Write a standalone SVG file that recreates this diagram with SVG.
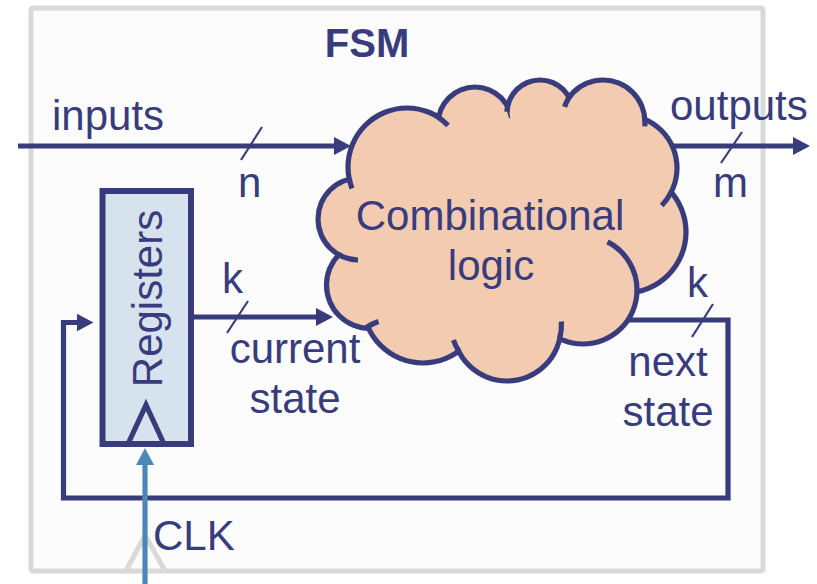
<svg xmlns="http://www.w3.org/2000/svg" width="817" height="584" viewBox="0 0 817 584">
  <style>
    .lbl { font-family: "Liberation Sans", Arial, sans-serif; font-size: 42px; fill: #383c7c; }
    .title { font-family: "Liberation Sans", Arial, sans-serif; font-size: 40px; font-weight: bold; fill: #383c7c; }
    .wire { fill: none; stroke: #383c7c; stroke-width: 5.2; }
    .clk { fill: none; stroke: #4c87b8; stroke-width: 5.2; }
    .slash { fill: none; stroke: #383c7c; stroke-width: 2.2; }
    .tail { fill: none; stroke: #383c7c; stroke-width: 5.2; }
  </style>
  <defs>
    <marker id="arrow" markerUnits="userSpaceOnUse" markerWidth="18" markerHeight="18" viewBox="0 0 18 18" refX="1" refY="9" orient="auto">
      <path d="M0,0 L17,9 L0,18 z" fill="#383c7c"/>
    </marker>
    <marker id="arrowClk" markerUnits="userSpaceOnUse" markerWidth="18" markerHeight="18" viewBox="0 0 18 18" refX="1" refY="9" orient="auto">
      <path d="M0,0 L17,9 L0,18 z" fill="#4c87b8"/>
    </marker>
  </defs>

  <rect width="817" height="584" fill="#ffffff"/>

  <!-- FSM boundary with its clock input -->
  <g id="fsm-frame">
    <rect x="31" y="8" width="732" height="563" rx="2" fill="#fcfcfc" stroke="#d9d9d9" stroke-width="5"/>
    <polyline points="127,569 145,535 164,569" fill="none" stroke="#d9d9d9" stroke-width="5"/>
    <text class="title" x="367" y="57" text-anchor="middle">FSM</text>
  </g>

  <!-- Combinational logic cloud: union of bumps -->
  <g id="combinational-logic">
    <g fill="#383c7c">
      <circle cx="407" cy="167" r="61.6"/>
      <circle cx="475" cy="124" r="39.6"/>
      <circle cx="540" cy="113" r="35.6"/>
      <circle cx="603" cy="122" r="44.6"/>
      <circle cx="624" cy="168" r="55.6"/>
      <circle cx="625" cy="232" r="63.6"/>
      <circle cx="583" cy="290" r="56.6"/>
      <circle cx="507" cy="327" r="56.6"/>
      <circle cx="423" cy="303" r="62.6"/>
      <circle cx="370" cy="285" r="46.1"/>
      <circle cx="359" cy="219" r="43.6"/>
    </g>
    <g fill="#f2cbb1">
      <circle cx="407" cy="167" r="56.4"/>
      <circle cx="475" cy="124" r="34.4"/>
      <circle cx="540" cy="113" r="30.4"/>
      <circle cx="603" cy="122" r="39.4"/>
      <circle cx="624" cy="168" r="50.4"/>
      <circle cx="625" cy="232" r="58.4"/>
      <circle cx="583" cy="290" r="51.4"/>
      <circle cx="507" cy="327" r="51.4"/>
      <circle cx="423" cy="303" r="57.4"/>
      <circle cx="370" cy="285" r="40.9"/>
      <circle cx="359" cy="219" r="38.4"/>
      <polygon points="407,167 475,124 540,113 603,122 624,168 625,232 583,290 507,327 423,303 370,285 359,219"/>
    </g>
    <!-- inner tails of the bumps -->
    <path class="tail" d="M438.7,117.3 A59,59 0 0,1 448,125.6"/>
    <path class="tail" d="M507.7,106.6 A33,33 0 0,0 506.8,111.8"/>
    <path class="tail" d="M569,97.3 A42,42 0 0,0 564.6,106.9"/>
    <path class="tail" d="M644.8,119.3 A42,42 0 0,1 644.8,126.4"/>
    <path class="tail" d="M671.2,192.2 A53,53 0 0,1 661.7,205.5"/>
    <path class="tail" d="M637,291.8 A54,54 0 0,0 607.5,241.9"/>
    <path class="tail" d="M559.7,338.7 A54,54 0 0,0 561.4,321.5"/>
    <path class="tail" d="M458.8,351.2 A54,54 0 0,1 453.5,340"/>
    <path class="tail" d="M366.5,327.5 A45,45 0 0,1 378.5,321.5"/>
    <path class="tail" d="M338.7,254.7 A41,41 0 0,0 358,260"/>
    <path class="tail" d="M349.3,179.1 A59,59 0 0,0 352,188.5"/>
    <text class="lbl" x="490" y="230" text-anchor="middle">Combinational</text>
    <text class="lbl" x="491" y="280" text-anchor="middle">logic</text>
  </g>

  <!-- State register -->
  <g id="registers">
    <rect x="102.5" y="191" width="88.5" height="253" fill="#d6e2ee" stroke="#383c7c" stroke-width="6"/>
    <polyline points="128,444 146,405 164,444" fill="none" stroke="#383c7c" stroke-width="5.2"/>
    <text class="lbl" transform="translate(161.5,298.5) rotate(-90)" text-anchor="middle">Registers</text>
  </g>

  <!-- Wires -->
  <g id="connectors">
    <path class="wire" d="M18,146 H335" marker-end="url(#arrow)"/>
    <path class="wire" d="M672,146 H794" marker-end="url(#arrow)"/>
    <path class="wire" d="M194,317 H317" marker-end="url(#arrow)"/>
    <path class="wire" d="M628,320 H728 V498 H63.5 V322.5 H77.5" marker-end="url(#arrow)"/>
    <path class="clk" d="M145,584 V464" marker-end="url(#arrowClk)"/>
    <line class="slash" x1="262" y1="127" x2="241" y2="160"/>
    <line class="slash" x1="742" y1="132" x2="721" y2="163"/>
    <line class="slash" x1="248" y1="301" x2="227" y2="333"/>
    <line class="slash" x1="713" y1="304" x2="692" y2="337"/>
  </g>

  <!-- Wire labels -->
  <g id="labels">
    <text class="lbl" x="52" y="130">inputs</text>
    <text class="lbl" x="238" y="197">n</text>
    <text class="lbl" x="670" y="120">outputs</text>
    <text class="lbl" x="713" y="197">m</text>
    <text class="lbl" x="222" y="293">k</text>
    <text class="lbl" x="295" y="363" text-anchor="middle">current</text>
    <text class="lbl" x="295" y="413" text-anchor="middle">state</text>
    <text class="lbl" x="687" y="297">k</text>
    <text class="lbl" x="668" y="376" text-anchor="middle">next</text>
    <text class="lbl" x="668" y="426" text-anchor="middle">state</text>
    <text class="lbl" x="153" y="550">CLK</text>
  </g>
</svg>
